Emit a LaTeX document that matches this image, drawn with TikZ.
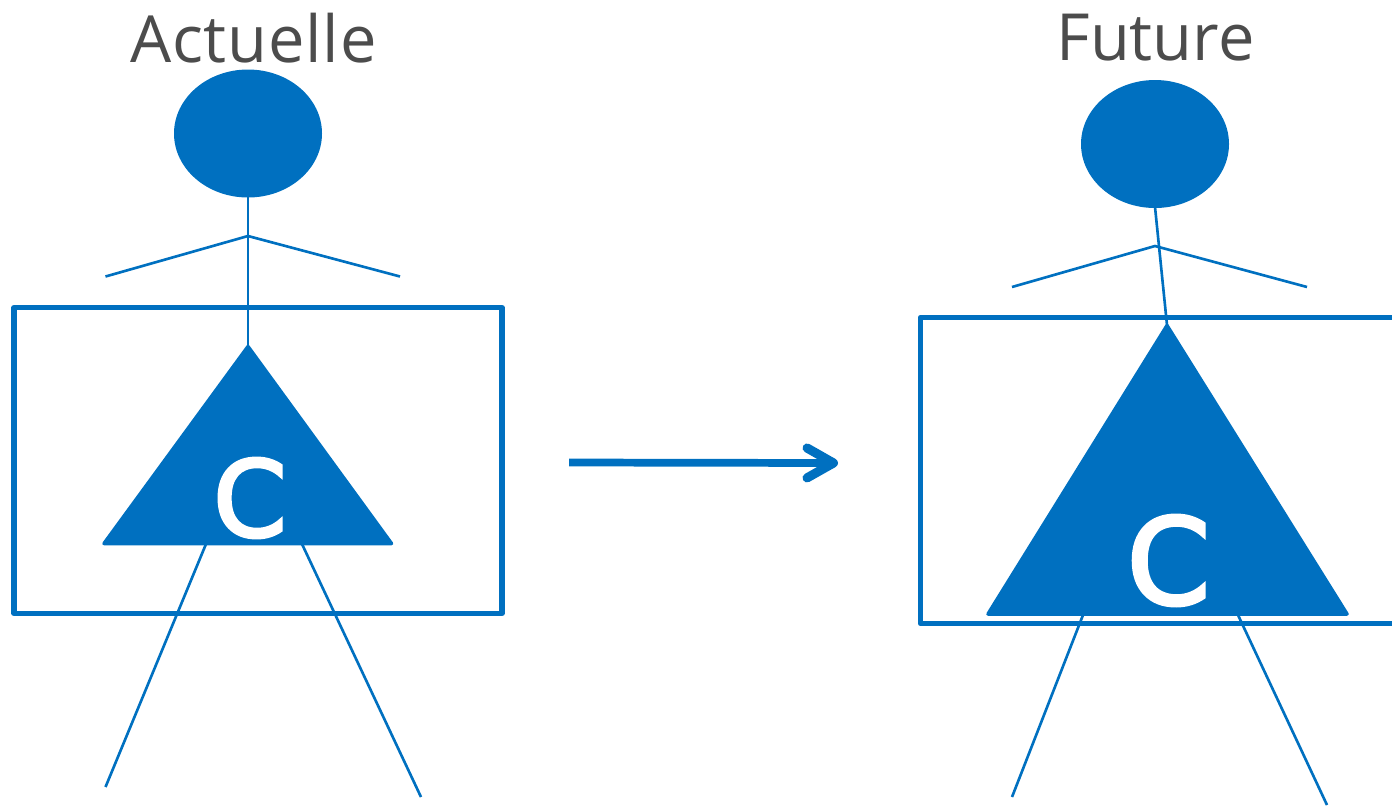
\documentclass[tikz,border=0pt]{standalone}
\usepackage{fontspec}
\setmainfont{Open Sans}
\newfontfamily\letterfont[FakeBold=3]{DejaVu Sans}
\usetikzlibrary{arrows.meta}
\definecolor{figblue}{RGB}{0,112,192}
\definecolor{titlegray}{RGB}{76,76,76}
\tikzset{
	limb/.style={figblue, line width=1.5pt},
	frame/.style={figblue, line width=3pt, line join=round},
	body/.style={fill=figblue, draw=figblue, line width=2pt, line join=round},
	title/.style={text=titlegray, font=\fontsize{37}{37}\selectfont, inner sep=0pt},
}
\begin{document}
\begin{tikzpicture}[x=0.02cm,y=-0.02cm]
		\useasboundingbox (0,0) rectangle (1392,806);
		% left figure
		\node[title] (actuelle) at (253.5,38) {\addfontfeature{LetterSpace=1.2}Actuelle};
		\draw [limb] (248,196) -- (248,346);
		\draw [limb] (105.5,276.5) -- (248,236) -- (400,276.5);
		\draw [limb] (206,544) -- (105.5,787);
		\draw [limb] (302,544) -- (421,797);
		\draw [frame] (14,307.5) rectangle (502,613.5);
		\fill [figblue] (248,133.5) ellipse [x radius=74, y radius=64];
		\draw [body] (248,346.5) -- (391.5,543.5) -- (104,543.5) -- cycle;
		\node[text=white, inner sep=0pt, font=\fontsize{60}{60}\letterfont] (cleft) at (250,498) {C};
		% right figure
		\node[title] (future) at (1155.5,38) {Future};
		\draw [limb] (1155,207) -- (1167,325);
		\draw [limb] (1012,287) -- (1155,246) -- (1307,287);
		\draw [limb] (1083,615) -- (1012,797);
		\draw [limb] (1238,615) -- (1327,805);
		\draw [frame] (1393,317.5) -- (920.5,317.5) -- (920.5,623.5) -- (1393,623.5);
		\fill [figblue] (1155,144) ellipse [x radius=74, y radius=64];
		\draw [body] (1167,325.5) -- (1347,614) -- (988,614) -- cycle;
		\node[text=white, inner sep=0pt, font=\fontsize{68}{68}\letterfont] (cright) at (1168.5,560.5) {C};
		% arrow between the two
		\coordinate (arrowstart) at (569,462.5);
		\coordinate (arrowend) at (838,463);
		\draw [figblue, line width=4.4pt, -{Straight Barb[length=15pt,width=17pt,line width=5.2pt,round]}] (arrowstart) -- (arrowend);
\end{tikzpicture}
\end{document}
